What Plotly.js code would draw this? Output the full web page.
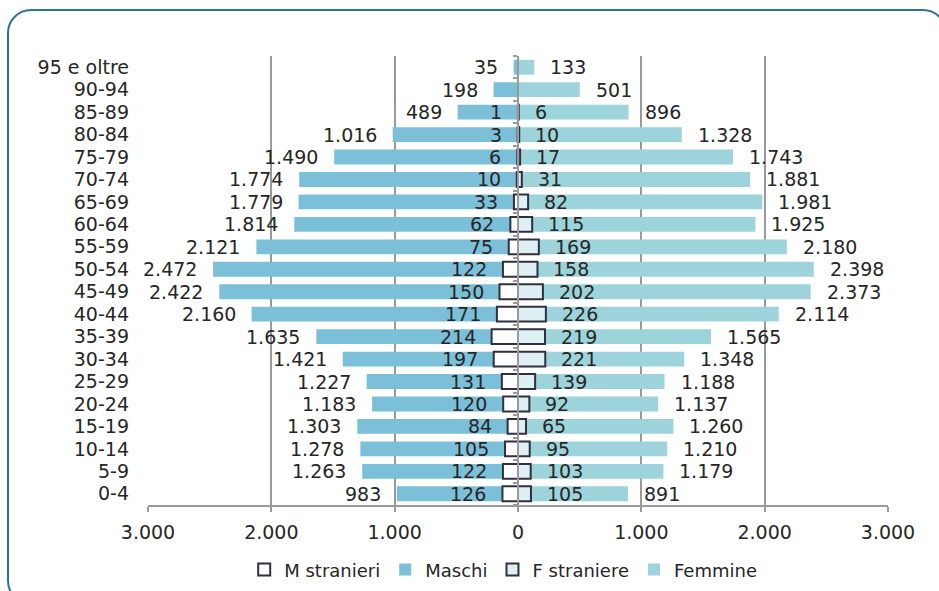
<!DOCTYPE html>
<html>
<head>
<meta charset="utf-8">
<script src="https://cdn.plot.ly/plotly-3.0.1.min.js"></script>
<style>
  html, body { margin: 0; padding: 0; background: #ffffff; }
  #wrap { position: relative; width: 939px; height: 591px; overflow: hidden; }
  #frame {
    position: absolute; left: 7px; top: 9px; width: 940px; height: 596px;
    border: 2.5px solid #2b7590; border-radius: 24px; box-sizing: border-box;
  }
  #chart { position: absolute; left: 0; top: 0; width: 939px; height: 591px; }
</style>
</head>
<body>
<div id="wrap">
  <div id="frame"></div>
  <div id="chart"></div>
</div>
<script>
// Age classes, from oldest (top) to youngest (bottom)
const ages = ['95 e oltre', '90-94', '85-89', '80-84', '75-79', '70-74', '65-69', '60-64',
  '55-59', '50-54', '45-49', '40-44', '35-39', '30-34', '25-29', '20-24', '15-19',
  '10-14', '5-9', '0-4'];

// Residents by sex
const maschi = [35, 198, 489, 1016, 1490, 1774, 1779, 1814, 2121, 2472, 2422, 2160,
  1635, 1421, 1227, 1183, 1303, 1278, 1263, 983];
const femmine = [133, 501, 896, 1328, 1743, 1881, 1981, 1925, 2180, 2398, 2373, 2114,
  1565, 1348, 1188, 1137, 1260, 1210, 1179, 891];

// Foreign residents by sex
const mStranieri = [null, null, 1, 3, 6, 10, 33, 62, 75, 122, 150, 171, 214, 197, 131,
  120, 84, 105, 122, 126];
const fStraniere = [null, null, 6, 10, 17, 31, 82, 115, 169, 158, 202, 226, 219, 221,
  139, 92, 65, 95, 103, 105];

// Horizontal axis ticks
const xTickVals = [-3000, -2000, -1000, 0, 1000, 2000, 3000];
const xTickText = ['3.000', '2.000', '1.000', '0', '1.000', '2.000', '3.000'];

const FONT = 'DejaVu Sans, sans-serif';
const TXT = '#262626';
const GRID = '#9a9a9a';
const OUTLINE = '#30303f';
const BAR_W = 0.66;
const FS = 19;

function fmt(v) {
  return String(v).replace(/\B(?=(\d{3})+(?!\d))/g, '.');
}
const neg = arr => arr.map(v => (v == null ? null : -v));

const traces = [
  {
    type: 'bar', orientation: 'h', name: 'Maschi', legendrank: 2,
    y: ages, x: neg(maschi), width: BAR_W,
    marker: { color: '#7bbfd9', line: { width: 0 } }
  },
  {
    type: 'bar', orientation: 'h', name: 'Femmine', legendrank: 4,
    y: ages, x: femmine, width: BAR_W,
    marker: { color: '#9dd3da', line: { width: 0 } }
  },
  {
    type: 'bar', orientation: 'h', name: 'M stranieri', legendrank: 1,
    y: ages, x: neg(mStranieri), width: BAR_W,
    marker: { color: '#ffffff', line: { color: OUTLINE, width: 2 } }
  },
  {
    type: 'bar', orientation: 'h', name: 'F straniere', legendrank: 3,
    y: ages, x: fStraniere, width: BAR_W,
    marker: { color: '#def0f3', line: { color: OUTLINE, width: 2 } }
  },
  // carrier for the central axis with the class-boundary ticks
  { type: 'scatter', x: [], y: [], yaxis: 'y2', showlegend: false, hoverinfo: 'skip' }
];

// value labels next to each bar end
const annotations = [];
const SHIFT = 15;
function addLabels(values, side) {
  values.forEach((v, i) => {
    if (v == null) return;
    annotations.push({
      x: side < 0 ? -v : v, y: i, xref: 'x', yref: 'y',
      text: fmt(v), showarrow: false,
      xanchor: side < 0 ? 'right' : 'left', yanchor: 'middle',
      xshift: side * SHIFT, borderpad: 0,
      font: { family: FONT, size: FS, color: TXT }
    });
  });
}
addLabels(maschi, -1);
addLabels(femmine, 1);
addLabels(mStranieri, -1);
addLabels(fStraniere, 1);

const boundaries = ages.map((_, i) => i - 0.5).concat([ages.length - 0.5]);

const layout = {
  width: 939, height: 591,
  margin: { l: 148, r: 51, t: 56, b: 86, autoexpand: false },
  paper_bgcolor: 'rgba(0,0,0,0)',
  plot_bgcolor: 'rgba(0,0,0,0)',
  barmode: 'overlay',
  hovermode: false,
  font: { family: FONT, size: FS, color: TXT },
  xaxis: {
    range: [-3000, 3000],
    tickmode: 'array', tickvals: xTickVals, ticktext: xTickText,
    showgrid: true, gridcolor: GRID, gridwidth: 2,
    zeroline: false,
    showline: true, linecolor: GRID, linewidth: 2,
    ticks: 'outside', ticklen: 5, tickwidth: 2, tickcolor: GRID,
    ticklabelstandoff: 4,
    tickfont: { family: FONT, size: FS, color: TXT },
    fixedrange: true
  },
  yaxis: {
    type: 'category', categoryorder: 'array', categoryarray: ages,
    range: [ages.length - 0.5, -0.5],
    tickmode: 'array', tickvals: ages, ticktext: ages,
    showgrid: false, zeroline: false, showline: false,
    ticks: '', ticklabelstandoff: 18,
    tickfont: { family: FONT, size: FS, color: TXT },
    fixedrange: true
  },
  yaxis2: {
    overlaying: 'y', anchor: 'free', position: 0.5, side: 'left',
    range: [ages.length - 0.5, -0.5],
    tickmode: 'array', tickvals: boundaries,
    ticks: 'outside', ticklen: 4, tickwidth: 2, tickcolor: GRID,
    showticklabels: false, showgrid: false, zeroline: false,
    showline: true, linecolor: GRID, linewidth: 2,
    fixedrange: true
  },
  legend: {
    orientation: 'h', x: 0.48, xanchor: 'center',
    yref: 'container', y: 0.067, yanchor: 'top',
    font: { family: FONT, size: 18, color: TXT },
    traceorder: 'normal', itemwidth: 30,
    bgcolor: 'rgba(0,0,0,0)'
  },
  annotations: annotations
};

Plotly.newPlot('chart', traces, layout, { displayModeBar: false, staticPlot: true });
</script>
</body>
</html>
